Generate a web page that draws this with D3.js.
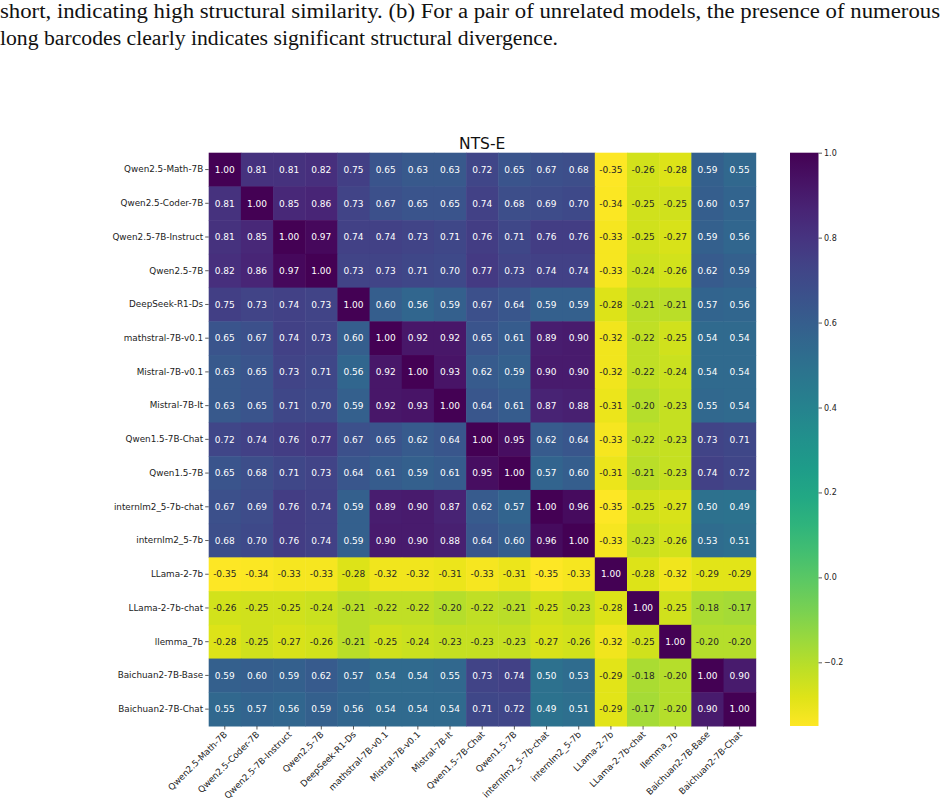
<!DOCTYPE html>
<html>
	<head>
		<meta charset="utf-8">
		<script src="https://d3js.org/d3.v7.min.js"></script>
	</head>
	<body style="margin:0">
		<script type="text/javascript">

			// model names (rows and columns share the same order)
			var models = ["Qwen2.5-Math-7B", "Qwen2.5-Coder-7B", "Qwen2.5-7B-Instruct", "Qwen2.5-7B",
				"DeepSeek-R1-Ds", "mathstral-7B-v0.1", "Mistral-7B-v0.1", "Mistral-7B-It",
				"Qwen1.5-7B-Chat", "Qwen1.5-7B", "internlm2_5-7b-chat", "internlm2_5-7b",
				"LLama-2-7b", "LLama-2-7b-chat", "llemma_7b", "Baichuan2-7B-Base", "Baichuan2-7B-Chat"];

			var values = [
				[1.00, 0.81, 0.81, 0.82, 0.75, 0.65, 0.63, 0.63, 0.72, 0.65, 0.67, 0.68, -0.35, -0.26, -0.28, 0.59, 0.55],
				[0.81, 1.00, 0.85, 0.86, 0.73, 0.67, 0.65, 0.65, 0.74, 0.68, 0.69, 0.70, -0.34, -0.25, -0.25, 0.60, 0.57],
				[0.81, 0.85, 1.00, 0.97, 0.74, 0.74, 0.73, 0.71, 0.76, 0.71, 0.76, 0.76, -0.33, -0.25, -0.27, 0.59, 0.56],
				[0.82, 0.86, 0.97, 1.00, 0.73, 0.73, 0.71, 0.70, 0.77, 0.73, 0.74, 0.74, -0.33, -0.24, -0.26, 0.62, 0.59],
				[0.75, 0.73, 0.74, 0.73, 1.00, 0.60, 0.56, 0.59, 0.67, 0.64, 0.59, 0.59, -0.28, -0.21, -0.21, 0.57, 0.56],
				[0.65, 0.67, 0.74, 0.73, 0.60, 1.00, 0.92, 0.92, 0.65, 0.61, 0.89, 0.90, -0.32, -0.22, -0.25, 0.54, 0.54],
				[0.63, 0.65, 0.73, 0.71, 0.56, 0.92, 1.00, 0.93, 0.62, 0.59, 0.90, 0.90, -0.32, -0.22, -0.24, 0.54, 0.54],
				[0.63, 0.65, 0.71, 0.70, 0.59, 0.92, 0.93, 1.00, 0.64, 0.61, 0.87, 0.88, -0.31, -0.20, -0.23, 0.55, 0.54],
				[0.72, 0.74, 0.76, 0.77, 0.67, 0.65, 0.62, 0.64, 1.00, 0.95, 0.62, 0.64, -0.33, -0.22, -0.23, 0.73, 0.71],
				[0.65, 0.68, 0.71, 0.73, 0.64, 0.61, 0.59, 0.61, 0.95, 1.00, 0.57, 0.60, -0.31, -0.21, -0.23, 0.74, 0.72],
				[0.67, 0.69, 0.76, 0.74, 0.59, 0.89, 0.90, 0.87, 0.62, 0.57, 1.00, 0.96, -0.35, -0.25, -0.27, 0.50, 0.49],
				[0.68, 0.70, 0.76, 0.74, 0.59, 0.90, 0.90, 0.88, 0.64, 0.60, 0.96, 1.00, -0.33, -0.23, -0.26, 0.53, 0.51],
				[-0.35, -0.34, -0.33, -0.33, -0.28, -0.32, -0.32, -0.31, -0.33, -0.31, -0.35, -0.33, 1.00, -0.28, -0.32, -0.29, -0.29],
				[-0.26, -0.25, -0.25, -0.24, -0.21, -0.22, -0.22, -0.20, -0.22, -0.21, -0.25, -0.23, -0.28, 1.00, -0.25, -0.18, -0.17],
				[-0.28, -0.25, -0.27, -0.26, -0.21, -0.25, -0.24, -0.23, -0.23, -0.23, -0.27, -0.26, -0.32, -0.25, 1.00, -0.20, -0.20],
				[0.59, 0.60, 0.59, 0.62, 0.57, 0.54, 0.54, 0.55, 0.73, 0.74, 0.50, 0.53, -0.29, -0.18, -0.20, 1.00, 0.90],
				[0.55, 0.57, 0.56, 0.59, 0.56, 0.54, 0.54, 0.54, 0.71, 0.72, 0.49, 0.51, -0.29, -0.17, -0.20, 0.90, 1.00]
			];

			var colorbarTicks = [1.0, 0.8, 0.6, 0.4, 0.2, 0.0, -0.2];

			var captionLines = [
				"short, indicating high structural similarity.  (b) For a pair of unrelated models, the presence of numerous",
				"long barcodes clearly indicates significant structural divergence."
			];

			var W = 947, H = 812;
			var SANS = "DejaVu Sans";
			var hm = {left: 208.7, top: 152.7, right: 755.7, bottom: 726};
			var cb = {left: 790, right: 818.5, top: 152.7, bottom: 726};

			var vmin = d3.min(values, function(r){ return d3.min(r); });
			var vmax = d3.max(values, function(r){ return d3.max(r); });

			var svg = d3.select("body")
				.append("svg")
				.attr("width", W)
				.attr("height", H)
				.style("display", "block");

			// caption text from the paper above the figure
			svg.append("g")
				.selectAll("text")
				.data(captionLines)
				.enter()
				.append("text")
				.attr("x", 0)
				.attr("y", function(d, i){ return 18 + i * 27; })
				.attr("textLength", function(d, i){ return i == 0 ? 940 : 558; })
				.attr("lengthAdjust", "spacingAndGlyphs")
				.attr("font-family", "Liberation Serif")
				.attr("font-size", 20.5)
				.attr("fill", "#111")
				.text(function(d){ return d; });

			var xscale = d3.scaleBand().domain(models).range([hm.left, hm.right]);
			var yscale = d3.scaleBand().domain(models).range([hm.top, hm.bottom]);

			var color = function(v){
				return d3.interpolateViridis(1 - (v - vmin) / (vmax - vmin));
			};

			var cells = [];
			values.forEach(function(row, i){
				row.forEach(function(v, j){
					cells.push({r: models[i], c: models[j], v: v});
				});
			});

			svg.append("g")
				.selectAll("rect")
				.data(cells)
				.enter()
				.append("rect")
				.attr("x", function(d){ return xscale(d.c); })
				.attr("y", function(d){ return yscale(d.r); })
				.attr("width", xscale.bandwidth() + 0.5)
				.attr("height", yscale.bandwidth() + 0.5)
				.attr("fill", function(d){ return color(d.v); });

			// annotations, dark text on light cells like seaborn
			function lum(c){
				var rgb = d3.rgb(c);
				var f = function(x){ x = x / 255; return x <= 0.03928 ? x / 12.92 : Math.pow((x + 0.055) / 1.055, 2.4); };
				return 0.2126 * f(rgb.r) + 0.7152 * f(rgb.g) + 0.0722 * f(rgb.b);
			}

			svg.append("g")
				.selectAll("text")
				.data(cells)
				.enter()
				.append("text")
				.attr("x", function(d){ return xscale(d.c) + xscale.bandwidth() / 2; })
				.attr("y", function(d){ return yscale(d.r) + yscale.bandwidth() / 2; })
				.attr("dy", "0.36em")
				.attr("text-anchor", "middle")
				.attr("font-family", SANS)
				.attr("font-size", 9)
				.attr("fill", function(d){ return lum(color(d.v)) > 0.408 ? "#262626" : "#fff"; })
				.text(function(d){ return d3.format(".2f")(d.v).replace("\u2212", "-"); });

			// y axis
			var yaxis = svg.append("g")
				.attr("transform", "translate(" + hm.left + ",0)")
				.call(d3.axisLeft(yscale).tickSize(3.5).tickPadding(2))
				.attr("font-family", SANS)
				.attr("font-size", 8.8);
			yaxis.select(".domain").remove();
			yaxis.selectAll("line").attr("stroke", "#333").attr("stroke-width", 0.8);
			yaxis.selectAll("text").attr("fill", "#222");

			// x axis
			var xaxis = svg.append("g")
				.attr("transform", "translate(0," + hm.bottom + ")")
				.call(d3.axisBottom(xscale).tickSize(3.5).tickPadding(2))
				.attr("font-family", SANS)
				.attr("font-size", 8.8);
			xaxis.select(".domain").remove();
			xaxis.selectAll("line").attr("stroke", "#333").attr("stroke-width", 0.8);
			xaxis.selectAll("text")
				.attr("text-anchor", "end")
				.attr("fill", "#222")
				.attr("dy", null)
				.attr("y", 0)
				.attr("transform", "translate(3,9) rotate(-45)");

			// title
			svg.append("text")
				.attr("x", (hm.left + hm.right) / 2)
				.attr("y", 148.5)
				.attr("text-anchor", "middle")
				.attr("font-family", SANS)
				.attr("font-size", 15.5)
				.attr("fill", "#111")
				.text("NTS-E");

			// colorbar
			var defs = svg.append("defs");
			var grad = defs.append("linearGradient")
				.attr("id", "cbgrad")
				.attr("x1", 0).attr("y1", 1).attr("x2", 0).attr("y2", 0);
			d3.range(0, 1.0001, 0.05).forEach(function(t){
				grad.append("stop")
					.attr("offset", t)
					.attr("stop-color", color(vmin + t * (vmax - vmin)));
			});

			var cscale = d3.scaleLinear().domain([vmin, vmax]).range([cb.bottom, cb.top]);

			svg.append("rect")
				.attr("x", cb.left)
				.attr("y", cb.top)
				.attr("width", cb.right - cb.left)
				.attr("height", cb.bottom - cb.top)
				.attr("fill", "url(#cbgrad)");

			var caxis = svg.append("g")
				.attr("transform", "translate(" + cb.right + ",0)")
				.call(d3.axisRight(cscale).tickValues(colorbarTicks).tickSize(3.5).tickPadding(2)
					.tickFormat(function(d){ return d3.format(".1f")(d); }))
				.attr("font-family", SANS)
				.attr("font-size", 8);
			caxis.select(".domain").remove();
			caxis.selectAll("line").attr("stroke", "#333").attr("stroke-width", 0.8);
			caxis.selectAll("text").attr("fill", "#222");

		</script>
	</body>
</html>
